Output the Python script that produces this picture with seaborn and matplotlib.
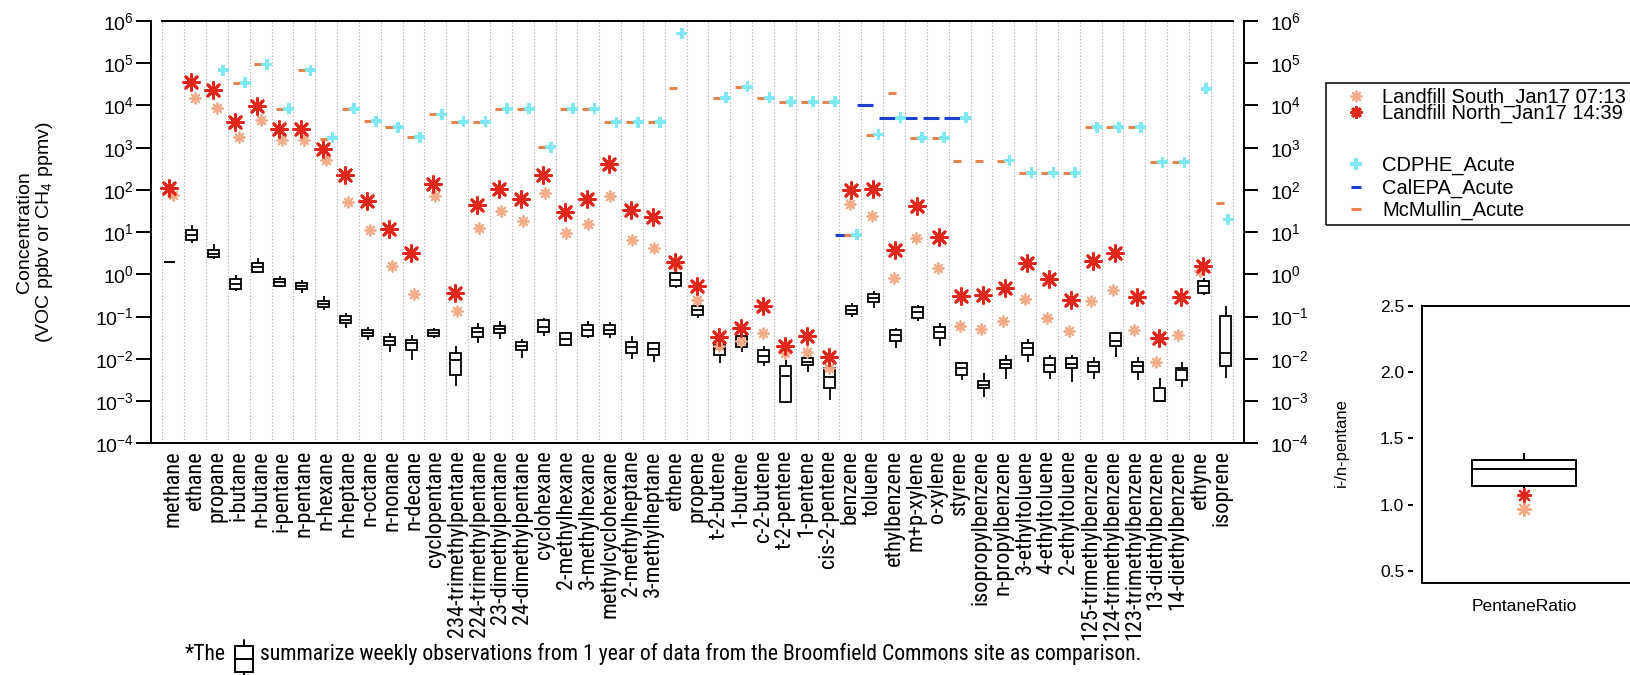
import numpy as np
import pandas as pd
import matplotlib
matplotlib.use("Agg")
import matplotlib.pyplot as plt
import seaborn as sns
from matplotlib import font_manager as fm
from matplotlib.lines import Line2D
from matplotlib.patches import Rectangle
from matplotlib.ticker import NullLocator, LogLocator, FixedLocator, NullFormatter, FormatStrFormatter

nan = np.nan

compounds = ["methane", "ethane", "propane", "i-butane", "n-butane", "i-pentane", "n-pentane",
             "n-hexane", "n-heptane", "n-octane", "n-nonane", "n-decane", "cyclopentane",
             "234-trimethylpentane", "224-trimethylpentane", "23-dimethylpentane",
             "24-dimethylpentane", "cyclohexane", "2-methylhexane", "3-methylhexane",
             "methylcyclohexane", "2-methylheptane", "3-methylheptane", "ethene", "propene",
             "t-2-butene", "1-butene", "c-2-butene", "t-2-pentene", "1-pentene", "cis-2-pentene",
             "benzene", "toluene", "ethylbenzene", "m+p-xylene", "o-xylene", "styrene",
             "isopropylbenzene", "n-propylbenzene", "3-ethyltoluene", "4-ethyltoluene",
             "2-ethyltoluene", "125-trimethylbenzene", "124-trimethylbenzene",
             "123-trimethylbenzene", "13-diethylbenzene", "14-diethylbenzene", "ethyne", "isoprene"]

north = [111, 36400, 23100, 4030, 9640, 2800, 2700, 955, 231, 54, 11.9, 3.2, 141, 0.37, 43, 108,
         62, 231, 29.5, 61, 414, 34, 23, 1.93, 0.54, 0.033, 0.053, 0.18, 0.0196, 0.034, 0.011,
         102, 108, 3.7, 41, 7.7, 0.31, 0.33, 0.47, 1.86, 0.77, 0.25, 2.03, 3.2, 0.285, 0.031,
         0.285, 1.55, nan]
south = [77, 15200, 8800, 1810, 4490, 1510, 1560, 524, 51, 11, 1.55, 0.34, 73, 0.133, 12.6, 31,
         18.7, 85, 9.5, 15.9, 73, 6.6, 4.2, 1.70, 0.25, 0.0196, 0.026, 0.041, 0.0136, 0.0149,
         0.0060, 47, 23.7, 0.82, 7.3, 1.41, 0.061, 0.051, 0.077, 0.26, 0.092, 0.046, 0.23, 0.43,
         0.049, 0.0082, 0.037, 1.18, nan]
mcmullin = [nan, nan, nan, 34500, 93800, 8340, 68900, 1620, 8340, 4250, 3060, 1770, 6120, 4100,
            4100, 8340, 8340, 1030, 8340, 8340, 4030, 4030, 4030, 25300, nan, 15200, 27700, 15200,
            12200, 12200, 12200, 8.4, 2050, 20000, 1710, 1710, 497, 497, 497, 253, 253, 253,
            3060, 3060, 3060, 453, 453, nan, 49]
cdphe = [nan, nan, 68900, 34500, 93800, 8340, 68900, 1710, 8340, 4250, 3060, 1770, 6120, 4100,
         4100, 8340, 8340, 1030, 8340, 8340, 4030, 4030, 4030, 510000, nan, 15200, 27700, 15200,
         12200, 12200, 12200, 8.6, 2050, 5100, 1710, 1710, 5100, nan, 497, 253, 253, 253, 3060,
         3060, 3060, 453, 453, 24800, 19.8]
calepa = [nan] * 31 + [8.4, 10000, 5100, 5100, 5100, 5100] + [nan] * 12

box_lo = [2, 5.5, 2.3, 0.40, 1.08, 0.50, 0.37, 0.145, 0.053, 0.028, 0.0149, 0.0095, 0.031, 0.0023,
          0.0235, 0.029, 0.0104, 0.034, 0.020, 0.031, 0.031, 0.0098, 0.0082, 0.47, 0.092, 0.0079,
          0.0149, 0.0066, 0.00089, 0.0050, 0.00107, 0.097, 0.159, 0.0179, 0.077, 0.0196, 0.0032,
          0.00128, 0.0033, 0.0086, 0.0033, 0.0029, 0.0034, 0.0113, 0.0032, 0.00098, 0.0022, 0.33,
          0.0035]
box_q1 = [2, 6.4, 2.6, 0.45, 1.14, 0.54, 0.45, 0.168, 0.070, 0.034, 0.0215, 0.0163, 0.035, 0.0042,
          0.033, 0.041, 0.0158, 0.044, 0.0215, 0.034, 0.039, 0.0136, 0.0125, 0.54, 0.110, 0.0125,
          0.0189, 0.0086, 0.00097, 0.0072, 0.0020, 0.117, 0.217, 0.027, 0.092, 0.031, 0.0042,
          0.0020, 0.0060, 0.0125, 0.0050, 0.0060, 0.0050, 0.0196, 0.0050, 0.00098, 0.0032, 0.37,
          0.0068]
box_med = [2, 8.7, 3.1, 0.60, 1.47, 0.65, 0.52, 0.20, 0.084, 0.041, 0.027, 0.0235, 0.042, 0.0095,
           0.044, 0.051, 0.0196, 0.058, 0.030, 0.047, 0.049, 0.0186, 0.0170, 0.75, 0.145, 0.017,
           0.0257, 0.0118, 0.0040, 0.0086, 0.0038, 0.145, 0.27, 0.037, 0.126, 0.044, 0.0060,
           0.0024, 0.0075, 0.0179, 0.0072, 0.0075, 0.0066, 0.027, 0.0068, 0.00102, 0.0053, 0.52,
           0.0141]
box_q3 = [2, 11.5, 3.85, 0.77, 1.86, 0.77, 0.62, 0.24, 0.101, 0.049, 0.033, 0.028, 0.049, 0.0141,
          0.053, 0.061, 0.0244, 0.081, 0.041, 0.064, 0.064, 0.0257, 0.0235, 1.08, 0.18, 0.0215,
          0.034, 0.0163, 0.0068, 0.0104, 0.0060, 0.174, 0.35, 0.049, 0.168, 0.058, 0.0079,
          0.0030, 0.0095, 0.0235, 0.0104, 0.0104, 0.0086, 0.041, 0.0086, 0.0020, 0.0060, 0.71,
          0.101]
box_hi = [2, 15.1, 5.1, 0.98, 2.4, 0.93, 0.72, 0.31, 0.121, 0.058, 0.041, 0.037, 0.053, 0.0196,
          0.070, 0.077, 0.029, 0.092, 0.044, 0.077, 0.073, 0.035, 0.0257, 1.18, 0.21, 0.0257,
          0.037, 0.0196, 0.0095, 0.0125, 0.0072, 0.21, 0.40, 0.053, 0.19, 0.070, 0.0086, 0.0046,
          0.0125, 0.029, 0.0125, 0.0125, 0.0113, 0.044, 0.0113, 0.0035, 0.0086, 0.82, 0.174]

ratio_label = "PentaneRatio"
ratio_stats = [1.13, 1.138, 1.268, 1.339, 1.394]
ratio_north = [1.075]
ratio_south = [0.967]

legend_labels = ["Landfill South_Jan17 07:13", "Landfill North_Jan17 14:39",
                 "CDPHE_Acute", "CalEPA_Acute", "McMullin_Acute"]
ylabel_text = "Concentration\n(VOC ppbv or CH$_4$ ppmv)"
caption_a = "*The"
caption_b = ("summarize weekly observations from 1 year of data from the Broomfield Commons "
             "site as comparison.")

# ------------------------------------------------------------------ style
W, H = 1631, 675
sns.set_style("white")
names = {f.name for f in fm.fontManager.ttflist}
MAIN = "Liberation Sans" if "Liberation Sans" in names else "DejaVu Sans"
narrow_pref = ["Liberation Sans Narrow", "Arial Narrow", "Roboto Condensed", "Open Sans Condensed"]
NARROW = next((f for f in narrow_pref if f in names), None)
if NARROW is None:
    others = sorted(n for n in names if ("Narrow" in n) or ("Condensed" in n and "Sans" in n))
    NARROW = others[0] if others else MAIN
plt.rcParams.update({
    "font.family": [MAIN, "DejaVu Sans"],
    "mathtext.fontset": "custom",
    "mathtext.rm": MAIN,
    "mathtext.it": MAIN + ":italic",
    "mathtext.bf": MAIN + ":bold",
    "axes.linewidth": 1.4,
    "axes.edgecolor": "black",
    "xtick.color": "black",
    "ytick.color": "black",
    "text.color": "black",
})

north_c = "#e2261c"
south_c = "#f3aa86"
cdphe_c = "#7fe8f2"
calepa_c = "#1d3fcc"
mcm_c = "#e8834f"
PT = 0.72  # points per pixel at 100 dpi

fig = plt.figure(figsize=(W / 100, H / 100), dpi=100)
renderer = fig.canvas.get_renderer()


def fx(px):
    return px / W


def fy(py):
    return 1 - py / H


def fit_size(text, family, target_px, base=10.0):
    t = fig.text(0, 0, text, fontfamily=family, fontsize=base)
    w = t.get_window_extent(renderer).width
    t.remove()
    return base * target_px / w


label_size = fit_size("234-trimethylpentane", NARROW, 185)
cap_size = fit_size(caption_b, NARROW, 877)

# ------------------------------------------------------------------ main axes
ax = fig.add_axes([fx(150.7), fy(443.3), fx(1244) - fx(150.7), fy(21) - fy(443.3)])
idx = np.arange(len(compounds))
drift = -0.17 + 0.0075 * idx
box_x = idx + drift

stats = np.column_stack([box_lo, box_q1, box_med, box_q3, box_hi])
box_df = pd.DataFrame({"x": np.repeat(box_x, 5), "conc": stats.ravel()})
sns.boxplot(data=box_df, x="x", y="conc", native_scale=True, log_scale=(False, True), orient="x",
            whis=np.inf, width=0.5, color="white", linecolor="black", linewidth=1.3,
            showcaps=False, ax=ax)

sns.scatterplot(x=idx + 0.0, y=south, marker=(8, 2, 0), s=(10.7 * PT) ** 2, color=south_c,
                linewidth=1.3, ax=ax, zorder=4, legend=False)
sns.scatterplot(x=box_x - 0.04, y=north, marker=(8, 2, 0), s=(16 * PT) ** 2, color=north_c,
                linewidth=2.0, ax=ax, zorder=5, legend=False)
sns.scatterplot(x=idx - 0.33, y=calepa, marker="_", s=(16 * PT) ** 2, color=calepa_c,
                linewidth=2.2, ax=ax, zorder=5, legend=False)
sns.scatterplot(x=idx - 0.1, y=mcmullin, marker="_", s=(8 * PT) ** 2, color=mcm_c,
                linewidth=2.2, ax=ax, zorder=5, legend=False)
sns.scatterplot(x=idx + 0.29, y=cdphe, marker="P", s=(11 * PT) ** 2, color=cdphe_c,
                edgecolor="none", ax=ax, zorder=6, legend=False)

ax.set_xlabel("")
ax.set_ylabel("")
ax.set_yscale("log")
ax.set_ylim(1e-4, 1e6)
ax.set_xlim(-0.5 - 11.6 / 21.845, len(compounds) - 0.5 + 11.3 / 21.845)
ax.spines["top"].set_bounds(-0.5, len(compounds) - 0.5)
ax.spines["right"].set_visible(False)

ax.xaxis.set_major_locator(FixedLocator(np.arange(-0.5, len(compounds), 1.0)))
ax.xaxis.set_major_formatter(NullFormatter())
ax.set_xticks(idx, minor=True)
ax.set_xticklabels(compounds, minor=True, rotation=90, fontfamily=NARROW, fontsize=label_size)
ax.tick_params(axis="x", which="major", direction="out", length=13 * PT, width=1.4)
ax.tick_params(axis="x", which="minor", length=0, pad=5)
ax.grid(axis="x", which="major", linestyle=(0, (1, 2)), color="#a8a8a8", linewidth=0.8)
ax.grid(axis="y", visible=False)
ax.set_axisbelow(True)

ax.yaxis.set_major_locator(LogLocator(base=10, numticks=20))
ax.yaxis.set_minor_locator(NullLocator())
ax.tick_params(axis="y", which="major", direction="out", length=15 * PT, width=1.4, pad=1.5,
               labelsize=14, left=True)

ax_r = ax.twinx()
ax_r.set_yscale("log")
ax_r.set_ylim(1e-4, 1e6)
for s in ["left", "top", "bottom"]:
    ax_r.spines[s].set_visible(False)
ax_r.spines["right"].set_linewidth(1.4)
ax_r.yaxis.set_major_locator(LogLocator(base=10, numticks=20))
ax_r.yaxis.set_minor_locator(NullLocator())
ax_r.tick_params(axis="y", which="major", direction="out", length=14 * PT, width=1.4, pad=8.6,
                 labelsize=14, right=True)

fig.text(fx(35.5), fy(232), ylabel_text, rotation=90, ha="center", va="center",
         multialignment="center", fontsize=14, linespacing=1.1)

# ------------------------------------------------------------------ legend
fig.add_artist(Rectangle((fx(1326), fy(225)), fx(1720) - fx(1326), fy(83) - fy(225),
                         transform=fig.transFigure, fill=False, edgecolor="black", lw=1.1))
leg_rows = [96, 112, 164, 187, 209]   # row centres (px from top)
leg_handles = [
    dict(marker=(8, 2, 0), markersize=11.7 * PT, mew=1.3, color=south_c),
    dict(marker=(8, 2, 0), markersize=12 * PT, mew=2.0, color=north_c),
    dict(marker="P", markersize=11.7 * PT, mew=0, color=cdphe_c),
    dict(marker="_", markersize=10 * PT, mew=2.2, color=calepa_c),
    dict(marker="_", markersize=10 * PT, mew=2.2, color=mcm_c),
]
for lab, yc, hd in zip(legend_labels, leg_rows, leg_handles):
    fig.text(fx(1382), fy(yc + 7), lab, fontsize=14.5, va="baseline", ha="left")
    fig.add_artist(Line2D([fx(1356)], [fy(yc)], transform=fig.transFigure,
                          linestyle="none", markeredgecolor=hd["color"],
                          markerfacecolor=hd["color"], marker=hd["marker"],
                          markersize=hd["markersize"], markeredgewidth=hd["mew"]))

# ------------------------------------------------------------------ inset
ax_in = fig.add_axes([fx(1421.7), fy(583.3), fx(1700) - fx(1421.7), fy(306) - fy(583.3)])
ratio_df = pd.DataFrame({"cat": [ratio_label] * len(ratio_stats), "ratio": ratio_stats})
sns.boxplot(data=ratio_df, x="cat", y="ratio", whis=np.inf, width=0.505, color="white",
            linecolor="black", linewidth=1.4, showcaps=False, ax=ax_in)
sns.scatterplot(x=[ratio_label], y=ratio_south, marker=(8, 2, 0), s=(13 * PT) ** 2,
                color=south_c, linewidth=1.6, ax=ax_in, zorder=4, legend=False)
sns.scatterplot(x=[ratio_label], y=ratio_north, marker=(8, 2, 0), s=(13 * PT) ** 2,
                color=north_c, linewidth=1.6, ax=ax_in, zorder=5, legend=False)
ax_in.set_xlim(-0.5, 0.86)
ax_in.set_ylim(0.407, 2.5)
ax_in.set_xlabel("")
ax_in.set_ylabel("")
ax_in.grid(False)
ax_in.spines["right"].set_visible(False)
ax_in.spines["left"].set_position(("outward", 8.4 * PT))
ax_in.spines["left"].set_visible(False)
ax_in.add_artist(Line2D([0, 0], [0, 1], transform=ax_in.transAxes, color="black", lw=1.4,
                        clip_on=False))
ax_in.set_yticks([0.5, 1.0, 1.5, 2.0, 2.5])
ax_in.yaxis.set_major_formatter(FormatStrFormatter("%.1f"))
ax_in.tick_params(axis="y", direction="out", length=5 * PT, width=1.4, pad=3, labelsize=12.5,
                  left=True)
ax_in.tick_params(axis="x", length=0, pad=11.5, labelsize=12.5)
fig.text(fx(1341.7), fy(443), "i-/n-pentane", rotation=90, ha="center", va="center",
         fontsize=12)

# ------------------------------------------------------------------ caption
fig.text(fx(260), fy(660), caption_b, fontfamily=NARROW, fontsize=cap_size, va="baseline")
fig.text(fx(185), fy(660), caption_a, fontfamily=NARROW, fontsize=cap_size, va="baseline")
fig.add_artist(Rectangle((fx(235.5), fy(672)), fx(253) - fx(235.5), fy(646) - fy(672),
                         transform=fig.transFigure, fill=False, edgecolor="black", lw=1.4))
fig.add_artist(Line2D([fx(235.5), fx(253)], [fy(659.3), fy(659.3)], transform=fig.transFigure,
                      color="black", lw=1.4))
fig.add_artist(Line2D([fx(244.2), fx(244.2)], [fy(640), fy(646)], transform=fig.transFigure,
                      color="black", lw=1.4))
fig.add_artist(Line2D([fx(244.2), fx(244.2)], [fy(672), fy(676)], transform=fig.transFigure,
                      color="black", lw=1.4))

fig.savefig("out.png", dpi=100)
